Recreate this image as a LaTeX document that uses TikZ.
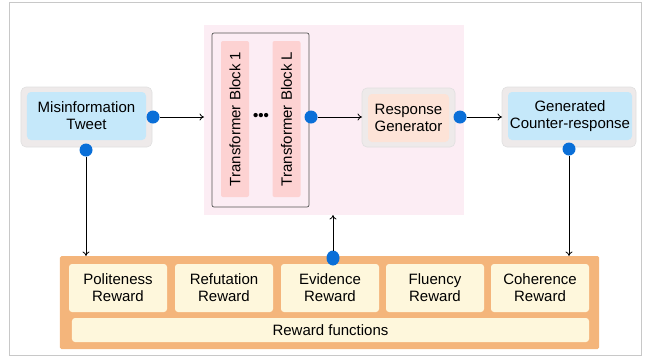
\documentclass[tikz,border=0pt]{standalone}
\usepackage{fontspec}
\setmainfont{Liberation Sans}
\usetikzlibrary{arrows.meta,shapes.geometric}
\definecolor{framegray}{HTML}{C8C8C8}
\definecolor{outergray}{HTML}{EEEAEA}
\definecolor{skyblue}{HTML}{C5E8FA}
\definecolor{pinkbg}{HTML}{FCEDF4}
\definecolor{tbpink}{HTML}{FDD2D2}
\definecolor{peach}{HTML}{FDE3D7}
\definecolor{orangebg}{HTML}{F4B57B}
\definecolor{cream}{HTML}{FEF7DC}
\definecolor{dotblue}{HTML}{0A6FD8}
\definecolor{boxline}{HTML}{555555}
\begin{document}
\begin{tikzpicture}[x=1bp,y=-1bp,
  every node/.style={font=\fontsize{15bp}{17bp}\selectfont, inner sep=0pt, outer sep=0pt},
  outerbox/.style={fill=outergray, rounded corners=5bp, draw=black!12, line width=0.6bp},
  innerbox/.style={rounded corners=4bp, align=center},
  rewardbox/.style={fill=cream, rounded corners=3bp, align=center, minimum width=98bp, minimum height=48bp},
  tblock/.style={fill=tbpink, rounded corners=2bp, minimum width=156bp, minimum height=28bp, rotate=90},
  bluedot/.style={circle, fill=dotblue, minimum size=13bp},
  conn/.style={line width=0.8bp, -{To[length=4.5bp,width=7bp]}}
]
\useasboundingbox (0,0) rectangle (645,356);
\draw[framegray, line width=0.8bp] (9,2) rectangle (641,355);

% pink background region
\node[fill=pinkbg, minimum width=260bp, minimum height=190bp] (pinkbg) at (334,120) {};
% transformer container
\node[draw=boxline, rounded corners=2bp, line width=0.7bp, minimum width=97bp, minimum height=174bp] (tcont) at (260.5,120) {};
\node[tblock] (tb1) at (235,119) {Transformer Block 1};
\node[tblock] (tbl) at (286.5,119) {Transformer Block L};
\node (ddd) at (261,117) {\textbf{•••}};

% Misinformation tweet
\node[outerbox, minimum width=131bp, minimum height=60bp] (misout) at (86.5,117) {};
\node[innerbox, fill=skyblue, minimum width=119bp, minimum height=48bp] (mis) at (86.5,116) {Misinformation\\Tweet};

% Response generator
\node[outerbox, minimum width=93bp, minimum height=59bp] (respout) at (408.5,117.5) {};
\node[innerbox, fill=peach, minimum width=81bp, minimum height=48bp] (resp) at (408.5,118) {Response\\Generator};

% Generated counter-response
\node[outerbox, minimum width=134bp, minimum height=60bp] (genout) at (569,117) {};
\node[innerbox, fill=skyblue, minimum width=124bp, minimum height=48bp] (gen) at (570,116) {Generated\\Counter-response};

% Rewards
\node[fill=orangebg, rounded corners=1.5bp, minimum width=539bp, minimum height=93bp] (rew) at (329.5,302.5) {};
\node[rewardbox] (pol) at (118,288) {Politeness\\Reward};
\node[rewardbox] (ref) at (224,288) {Refutation\\Reward};
\node[rewardbox] (evi) at (330,288) {Evidence\\Reward};
\node[rewardbox] (flu) at (435,288) {Fluency\\Reward};
\node[rewardbox] (coh) at (540,288) {Coherence\\Reward};
\node[fill=cream, rounded corners=3bp, minimum width=517bp, minimum height=24bp] (rf) at (330.5,330) {Reward functions};

% dots
\node[bluedot] (d1) at (153,117) {};
\node[bluedot] (d2) at (86,150) {};
\node[bluedot] (d3) at (311,117) {};
\node[bluedot] (d4) at (460,117) {};
\node[bluedot] (d5) at (569,149) {};
\node[ellipse, fill=dotblue, minimum width=13bp, minimum height=15bp] (d6) at (333,258) {};

% connectors
\coordinate (pinkin) at (pinkbg.west |- d1);
\draw[conn] (d1) -- (pinkin);
\draw[conn] (d3) -- (respout.west |- d3);
\draw[conn] (d4) -- (genout.west |- d4);
\draw[conn] (d2) -- (d2 |- rew.north);
\draw[conn] (d5) -- (d5 |- rew.north);
\draw[conn] (d6) -- (d6 |- pinkbg.south);
\end{tikzpicture}
\end{document}
